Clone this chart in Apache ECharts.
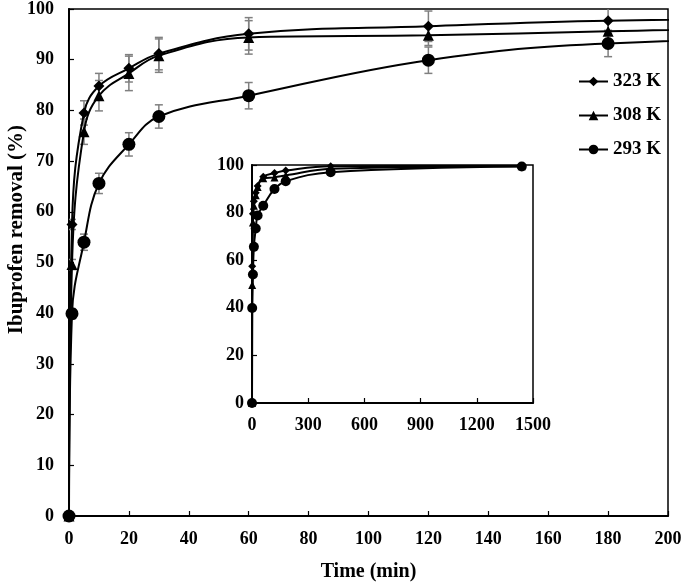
<!DOCTYPE html>
<html>
<head>
<meta charset="utf-8">
<script src="https://cdn.jsdelivr.net/npm/echarts@6/dist/echarts.min.js"></script>
<style>html,body{margin:0;padding:0;background:#fff}#c{width:685px;height:587px}</style>
</head>
<body>
<div id="c"></div>
<script>
const times = [0, 1, 5, 10, 20, 30, 60, 120, 180, 420, 1440];
const k323 = [0, 57.5, 79.5, 84.8, 88.3, 91.2, 95.1, 96.6, 97.7, 99.5, 99.6];
const k308 = [0, 49.6, 75.8, 82.9, 87.3, 90.8, 94.4, 94.8, 95.6, 98.4, 99.5];
const k293 = [0, 39.9, 54.0, 65.6, 73.3, 78.8, 82.9, 89.9, 93.2, 97.0, 99.4];
const e323 = [0, 1.0, 2.4, 2.5, 2.7, 3.2, 3.2, 3.0, 2.5, 0, 0];
const e308 = [0, 1.0, 2.5, 3.0, 3.4, 3.3, 3.3, 2.0, 2.0, 0, 0];
const e293 = [0, 1.0, 1.6, 2.0, 2.3, 2.3, 2.6, 2.6, 2.6, 0, 0];
const names = ['323 K', '308 K', '293 K'];
const xTicksMain = [0, 200, 20];
const yTicksMain = [0, 100, 10];
const xTicksInset = [0, 1500, 300];
const yTicksInset = [0, 100, 20];

const FONT = 'Liberation Serif';
const pairs = (v) => times.map((t, i) => [t, v[i]]);
const errData = (v, e) => times.map((t, i) => [t, v[i] - e[i], v[i] + e[i]]).filter((d, i) => e[i] > 0);

const chart = echarts.init(document.getElementById('c'), null, {renderer: 'canvas'});

function axisCommon(min, max, interval, margin) {
  return {
    type: 'value', min: min, max: max, interval: interval,
    axisLine: {show: true, onZero: false, lineStyle: {color: '#000', width: 2}},
    axisTick: {show: true, inside: true, length: 5, lineStyle: {color: '#000', width: 1.2}},
    axisLabel: {color: '#000', fontFamily: FONT, fontWeight: 'bold', fontSize: 18, margin: margin,
      formatter: (v) => String(v)},
    splitLine: {show: false}
  };
}

function errSeries(v, e) {
  return {
    type: 'custom', xAxisIndex: 0, yAxisIndex: 0, clip: true, z: 1,
    data: errData(v, e),
    renderItem: function (params, api) {
      const x = api.value(0);
      const lo = api.coord([x, api.value(1)]);
      const hi = api.coord([x, api.value(2)]);
      const w = 4;
      const st = {stroke: '#808080', lineWidth: 1.5};
      return {type: 'group', children: [
        {type: 'line', shape: {x1: lo[0], y1: lo[1], x2: hi[0], y2: hi[1]}, style: st},
        {type: 'line', shape: {x1: lo[0] - w, y1: lo[1], x2: lo[0] + w, y2: lo[1]}, style: st},
        {type: 'line', shape: {x1: hi[0] - w, y1: hi[1], x2: hi[0] + w, y2: hi[1]}, style: st}
      ]};
    }
  };
}

function lineSeries(name, v, symbol, size, axisIdx, showName) {
  return {
    type: 'line', name: showName ? name : undefined,
    xAxisIndex: axisIdx, yAxisIndex: axisIdx,
    data: pairs(v), clip: true, z: 3,
    smooth: 0.4,
    symbol: symbol, symbolSize: size,
    showAllSymbol: true,
    lineStyle: {color: '#000', width: 2},
    itemStyle: {color: '#000', opacity: 1},
    emphasis: {disabled: true}
  };
}

const option = {
  backgroundColor: '#fff',
  animation: false,
  grid: [
    {left: 69, right: 17, top: 8, bottom: 64, show: true, borderColor: '#000', borderWidth: 1.5, backgroundColor: 'transparent'},
    {left: 252, top: 165, width: 281, height: 238, show: true, borderColor: '#000', borderWidth: 1.5, backgroundColor: '#fff'}
  ],
  xAxis: [
    Object.assign(axisCommon(xTicksMain[0], xTicksMain[1], xTicksMain[2], 14), {gridIndex: 0,
      name: 'Time (min)', nameLocation: 'middle', nameGap: 46,
      nameTextStyle: {color: '#000', fontFamily: FONT, fontWeight: 'bold', fontSize: 20}}),
    Object.assign(axisCommon(xTicksInset[0], xTicksInset[1], xTicksInset[2], 13), {gridIndex: 1})
  ],
  yAxis: [
    Object.assign(axisCommon(yTicksMain[0], yTicksMain[1], yTicksMain[2], 15), {gridIndex: 0}),
    Object.assign(axisCommon(yTicksInset[0], yTicksInset[1], yTicksInset[2], 8), {gridIndex: 1})
  ],
  legend: {
    orient: 'vertical', left: 573, top: 67,
    itemWidth: 29, itemHeight: 12, itemGap: 15,
    data: names,
    textStyle: {color: '#000', fontFamily: FONT, fontWeight: 'bold', fontSize: 19},
    selectedMode: false
  },
  graphic: [
    {type: 'text', left: 6, top: 125, rotation: Math.PI / 2,
      style: {text: 'Ibuprofen removal (%)', fill: '#000', font: 'bold 21px "Liberation Serif"'}}
  ],
  series: [
    errSeries(k323, e323), errSeries(k308, e308), errSeries(k293, e293),
    lineSeries(names[0], k323, 'diamond', 11, 0, true),
    lineSeries(names[1], k308, 'triangle', 11, 0, true),
    lineSeries(names[2], k293, 'circle', 13, 0, true),
    lineSeries(names[0], k323, 'diamond', 8, 1, false),
    lineSeries(names[1], k308, 'triangle', 8, 1, false),
    lineSeries(names[2], k293, 'circle', 10, 1, false)
  ]
};
chart.setOption(option);
</script>
</body>
</html>
